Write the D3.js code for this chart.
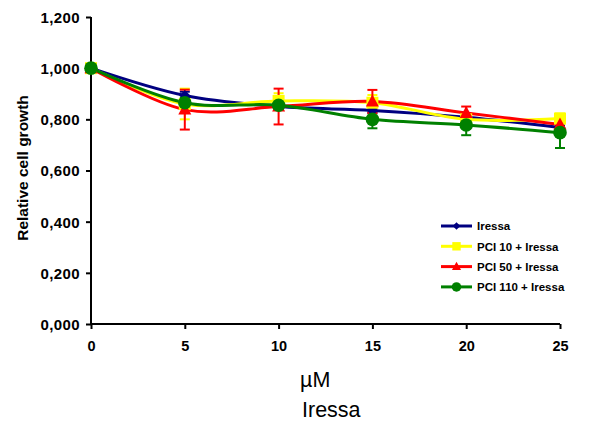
<!DOCTYPE html>
<html>
<head>
<meta charset="utf-8">
<script src="https://cdn.jsdelivr.net/npm/d3@7"></script>
<style>
  html, body { margin: 0; padding: 0; background: #fff; }
  svg { display: block; font-family: "Liberation Sans", Arial, sans-serif; }
</style>
</head>
<body>
<svg id="chart" width="603" height="424"></svg>
<script>
// Iressa concentration (µM)
const doses = [0, 5, 10, 15, 20, 25];

// Relative cell growth per treatment
const iressa      = [1.000, 0.893, 0.850, 0.835, 0.808, 0.768];
const pci10       = [1.000, 0.860, 0.872, 0.865, 0.800, 0.803];
const pci50       = [1.000, 0.838, 0.850, 0.870, 0.825, 0.780];
const pci110      = [1.000, 0.865, 0.855, 0.800, 0.778, 0.748];

// Error bar half-widths (standard deviation)
const iressaErr   = [0, 0.015, 0.010, 0.010, 0.010, 0.010];
const pci10Err    = [0, 0.060, 0.030, 0.030, 0.020, 0.020];
const pci50Err    = [0, 0.078, 0.070, 0.045, 0.025, 0.020];
const pci110Err   = [0, 0.020, 0.015, 0.035, 0.040, 0.060];

const seriesNames = ["Iressa", "PCI 10 + Iressa", "PCI 50 + Iressa", "PCI 110 + Iressa"];
const yTicks = [0, 0.2, 0.4, 0.6, 0.8, 1.0, 1.2];
const xTicks = [0, 5, 10, 15, 20, 25];

const series = [
  { name: seriesNames[0], values: iressa, err: iressaErr, color: "#000080", marker: "diamond" },
  { name: seriesNames[1], values: pci10,  err: pci10Err,  color: "#ffff00", marker: "square" },
  { name: seriesNames[2], values: pci50,  err: pci50Err,  color: "#ff0000", marker: "triangle" },
  { name: seriesNames[3], values: pci110, err: pci110Err, color: "#008000", marker: "circle" }
];

const svg = d3.select("#chart");
const x = d3.scaleLinear().domain([0, 25]).range([91, 560]);
const y = d3.scaleLinear().domain([0, 1.2]).range([324, 17]);

// Decimal comma with three decimals: 1,200 / 0,800
const commaFmt = v => d3.format(".3f")(v).replace(".", ",");

// Axes
const yAxis = d3.axisLeft(y).tickValues(yTicks).tickSize(5).tickPadding(6).tickFormat(commaFmt);
const xAxis = d3.axisBottom(x).tickValues(xTicks).tickSize(5).tickPadding(12).tickFormat(d3.format("d"));

const gy = svg.append("g").attr("transform", "translate(91,0)").call(yAxis);
const gx = svg.append("g").attr("transform", "translate(0,324)").call(xAxis);
[gx, gy].forEach(g => {
  g.select(".domain").attr("stroke", "#000").attr("stroke-width", 2);
  g.selectAll(".tick line").attr("stroke", "#000").attr("stroke-width", 2);
  g.selectAll(".tick text").attr("fill", "#000").attr("font-weight", "bold")
    .attr("font-family", "'Liberation Sans', Arial, sans-serif");
});
gx.selectAll(".tick text").attr("font-size", 14.5);
gy.selectAll(".tick text").attr("font-size", 15).attr("letter-spacing", 0.4).attr("dy", "0.36em");
gy.select(".domain").attr("d", "M0,324V17");
gx.select(".domain").attr("d", "M91,0H560");

// Axis titles
svg.append("text")
  .attr("transform", "translate(28,168) rotate(-90)")
  .attr("text-anchor", "middle")
  .attr("font-size", 15.5).attr("font-weight", "bold")
  .text("Relative cell growth");

svg.append("text").attr("x", 300).attr("y", 387).attr("font-size", 21.5).text("\u00b5M");
svg.append("text").attr("x", 302).attr("y", 417).attr("font-size", 21.5).text("Iressa");

// Markers
function drawMarker(g, type, cx, cy, color) {
  if (type === "diamond") {
    g.append("path").attr("d", `M${cx},${cy - 5.5}L${cx + 5.5},${cy}L${cx},${cy + 5.5}L${cx - 5.5},${cy}Z`).attr("fill", color);
  } else if (type === "square") {
    g.append("rect").attr("x", cx - 6).attr("y", cy - 6).attr("width", 12).attr("height", 12).attr("fill", color);
  } else if (type === "triangle") {
    g.append("path").attr("d", `M${cx},${cy - 7}L${cx + 6.5},${cy + 5}L${cx - 6.5},${cy + 5}Z`).attr("fill", color);
  } else {
    g.append("circle").attr("cx", cx).attr("cy", cy).attr("r", 6.8).attr("fill", color);
  }
}

const line = d3.line()
  .x((d, i) => x(doses[i]))
  .y(d => y(d))
  .curve(d3.curveCardinal.tension(0));

// Error bars
series.forEach(s => {
  const g = svg.append("g");
  s.values.forEach((v, i) => {
    if (!s.err[i]) return;
    const cx = x(doses[i]);
    const y1 = y(v + s.err[i]), y2 = y(v - s.err[i]);
    g.append("line").attr("x1", cx).attr("x2", cx).attr("y1", y1).attr("y2", y2)
      .attr("stroke", s.color).attr("stroke-width", 2);
    [y1, y2].forEach(yy => g.append("line").attr("x1", cx - 5).attr("x2", cx + 5)
      .attr("y1", yy).attr("y2", yy).attr("stroke", s.color).attr("stroke-width", 2));
  });
});

// Lines and markers
series.forEach(s => {
  svg.append("path").datum(s.values).attr("d", line)
    .attr("fill", "none").attr("stroke", s.color).attr("stroke-width", 3);
});
series.forEach(s => {
  const g = svg.append("g");
  s.values.forEach((v, i) => drawMarker(g, s.marker, x(doses[i]), y(v), s.color));
});

// Legend
const legend = svg.append("g");
series.forEach((s, i) => {
  const ly = 226 + i * 20.3;
  legend.append("line").attr("x1", 441).attr("x2", 472).attr("y1", ly).attr("y2", ly)
    .attr("stroke", s.color).attr("stroke-width", 3);
  const m = legend.append("g").attr("transform", `translate(${456.5},${ly}) scale(0.7) translate(${-456.5},${-ly})`);
  drawMarker(m, s.marker, 456.5, ly, s.color);
  legend.append("text").attr("x", 477).attr("y", ly + 4.2)
    .attr("font-size", 11.5).attr("font-weight", "bold").text(s.name);
});
</script>
</body>
</html>
